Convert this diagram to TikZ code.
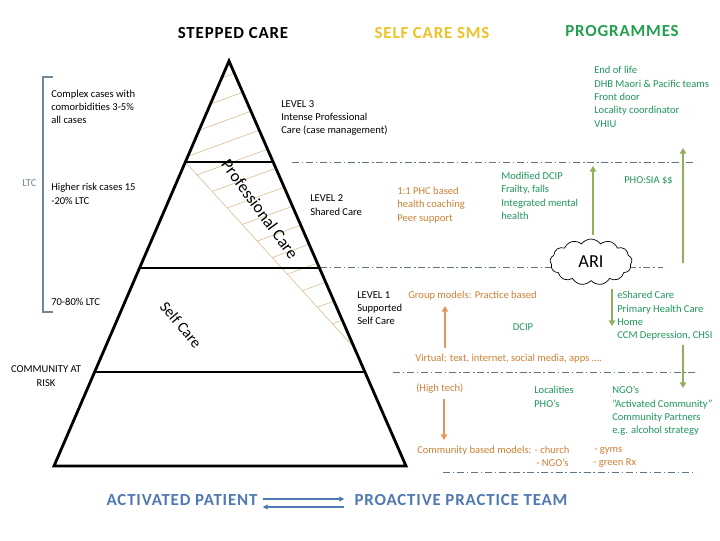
\documentclass[tikz,border=0pt]{standalone}
\usepackage{fontspec}
\setmainfont{Carlito}
\usetikzlibrary{arrows.meta,shapes.symbols,calc}
\definecolor{txtorange}{RGB}{204,128,51}
\definecolor{txtgreen}{RGB}{30,150,90}
\definecolor{headgreen}{RGB}{34,160,80}
\definecolor{headyellow}{RGB}{235,195,40}
\definecolor{arrowgreen}{RGB}{143,175,90}
\definecolor{arroworange}{RGB}{232,150,85}
\definecolor{teamblue}{RGB}{79,120,180}
\definecolor{sepgray}{RGB}{95,115,135}
\definecolor{bracketgray}{RGB}{115,135,155}
\definecolor{hatchtan}{RGB}{215,185,140}
\begin{document}
\begin{tikzpicture}[
  x=0.025cm, y=-0.025cm,
  lbl/.style={anchor=west, align=left, inner sep=0pt, font=\fontsize{7.5}{9.5}\selectfont},
  heading/.style={inner sep=0pt, font=\fontsize{12}{14}\selectfont\bfseries\addfontfeature{LetterSpace=5}},
  teamlbl/.style={inner sep=0pt, text=teamblue, font=\fontsize{12}{14}\selectfont\bfseries\addfontfeature{LetterSpace=5}},
  rotlbl/.style={inner sep=0pt, font=\fontsize{12}{14}\selectfont},
  edge/.style={line width=2pt, line join=miter},
  sepline/.style={draw=sepgray, line width=0.6pt, dash pattern=on 5pt off 2pt on 1pt off 2pt},
  hatch/.style={draw=hatchtan, line width=0.4pt},
  garrow/.style={draw=arrowgreen, line width=1.4pt, -{Triangle[width=4.5pt,length=4pt]}},
  oarrow/.style={draw=arroworange, line width=1.4pt, -{Triangle[width=4.5pt,length=4pt]}},
  barrow/.style={draw=teamblue, line width=0.9pt, -{Triangle[width=3.5pt,length=3.5pt]}}
]
\useasboundingbox (0,0) rectangle (720,540);

% pyramid corners and level points
\coordinate (apex) at (229,61);
\coordinate (bl) at (54,466);
\coordinate (br) at (406,466);
\coordinate (l3l) at ($(apex)!0.2494!(bl)$);
\coordinate (l3r) at ($(apex)!0.2494!(br)$);
\coordinate (l2l) at ($(apex)!0.5111!(bl)$);
\coordinate (l2r) at ($(apex)!0.5111!(br)$);
\coordinate (l1l) at ($(apex)!0.7679!(bl)$);
\coordinate (l1r) at ($(apex)!0.7679!(br)$);
\coordinate (diagend) at ($(apex)!0.7086!(br)$);

% professional care hatching
\begin{scope}
  \clip (apex) -- (l3l) -- (diagend) -- cycle;
  \foreach \k in {0,...,17}
    \draw[hatch] (150,60+22*\k) -- ++(300,-109);
\end{scope}
\draw[hatch] (l3l) -- (diagend);

% separators
\draw[sepline] (292,162) -- (693,162);
\draw[sepline] (320,267) -- (663,267);
\draw[sepline] (393,372) -- (695,372);
\draw[sepline] (443,472) -- (693,472);

% pyramid
\draw[edge] (bl) -- (apex) -- (br) -- cycle;
\draw[edge] (l3l) -- (l3r);
\draw[edge] (l2l) -- (l2r);
\draw[edge] (l1l) -- (l1r);

% LTC bracket
\draw[bracketgray, line width=1pt] (53,77) -- (43,77) -- (43,312) -- (53,312);

% headings
\node[heading] (stepped) at (233,33) {STEPPED CARE};
\node[heading, text=headyellow] (sms) at (432,33) {SELF CARE SMS};
\node[heading, text=headgreen] (progs) at (622,31) {PROGRAMMES};

% left column
\node[lbl] (complex) at (51,107) {Complex cases with\\comorbidities 3-5\%\\all cases};
\node[lbl, text=bracketgray] (ltc) at (22,183) {LTC};
\node[lbl] (higher) at (51,194) {Higher risk cases 15\\-20\% LTC};
\node[lbl] (ltcpct) at (51,302) {70-80\% LTC};
\node[lbl, anchor=center, align=center] (atrisk) at (46,376) {COMMUNITY AT\\RISK};

% pyramid labels
\node[rotlbl, rotate=-54] (profcare) at (260,209) {Professional Care};
\node[rotlbl, rotate=-50, font=\fontsize{11}{13}\selectfont] (selfcare) at (181,325) {Self Care};
\node[lbl] (level3) at (281,118) {LEVEL 3\\Intense Professional\\Care (case management)};
\node[lbl] (level2) at (310,205) {LEVEL 2\\Shared Care};
\node[lbl] (level1) at (357,308) {LEVEL 1\\Supported\\Self Care};

% self care sms
\node[lbl, text=txtorange] (coaching) at (397,205) {1:1 PHC based\\health coaching\\Peer support};
\node[lbl, text=txtorange] (group) at (408,296) {Group models: Practice based};
\node[lbl, text=txtorange] (virtual) at (415,359) {Virtual: text, internet, social media, apps ….};
\node[lbl, text=txtorange] (hightech) at (416,389) {(High tech)};
\node[lbl, text=txtorange] (commodels) at (417,451) {Community based models: - church};
\node[lbl, text=txtorange] (ngodash) at (536,463) {- NGO’s};
\node[lbl, text=txtorange] (gyms) at (594,451) {- gyms};
\node[lbl, text=txtorange] (greenrx) at (593,463) {- green Rx};

% programmes
\node[lbl, text=txtgreen] (endlife) at (594,97) {End of life\\DHB Maori \& Pacific teams\\Front door\\Locality coordinator\\VHIU};
\node[lbl, text=txtgreen] (dcipmod) at (501,196) {Modified DCIP\\Frailty, falls\\Integrated mental\\health};
\node[lbl, text=txtgreen] (phosia) at (624,181) {PHO:SIA \$\$};
\node[lbl, text=txtgreen, anchor=center] (dcip) at (523,327) {DCIP};
\node[lbl, text=txtgreen] (eshared) at (617,316) {eShared Care\\Primary Health Care\\Home\\CCM Depression, CHSI};
\node[lbl, text=txtgreen] (localities) at (534,397) {Localities\\PHO’s};
\node[lbl, text=txtgreen] (ngos) at (612,411) {NGO’s\\"Activated Community”\\Community Partners\\e.g. alcohol strategy};

% ARI cloud
\node[cloud, draw=black, fill=white, line width=0.5pt, cloud puffs=13, cloud puff arc=110,
  aspect=1.8, minimum width=2.05cm, minimum height=1.15cm, inner sep=0pt,
  font=\fontsize{13}{15}\selectfont] (ari) at (591,262) {ARI};

% arrows
\coordinate (ariup) at (593,166);
\coordinate (ariupstart) at (593,235);
\coordinate (phostart) at (683,263);
\coordinate (phoend) at (683,148);
\coordinate (esharedtop) at (612,289);
\coordinate (esharedbot) at (612,326);
\coordinate (ngotop) at (683,345);
\coordinate (ngobot) at (683,388);
\coordinate (grouparrow) at (445,306);
\coordinate (virtualarrow) at (445,348);
\coordinate (techarrow) at (444,399);
\coordinate (commarrow) at (444,440);
\draw[garrow] (ariupstart) -- (ariup);
\draw[garrow] (phostart) -- (phoend);
\draw[garrow] (esharedtop) -- (esharedbot);
\draw[garrow] (ngotop) -- (ngobot);
\draw[oarrow] (virtualarrow) -- (grouparrow);
\draw[oarrow] (techarrow) -- (commarrow);

% bottom
\node[teamlbl] (patient) at (182,500) {ACTIVATED PATIENT};
\node[teamlbl] (team) at (461,500) {PROACTIVE PRACTICE TEAM};
\draw[barrow] ([shift={(5,-1)}]patient.east) -- ([shift={(-10,-1)}]team.west);
\draw[barrow] ([shift={(-10,7)}]team.west) -- ([shift={(5,7)}]patient.east);
\end{tikzpicture}
\end{document}
